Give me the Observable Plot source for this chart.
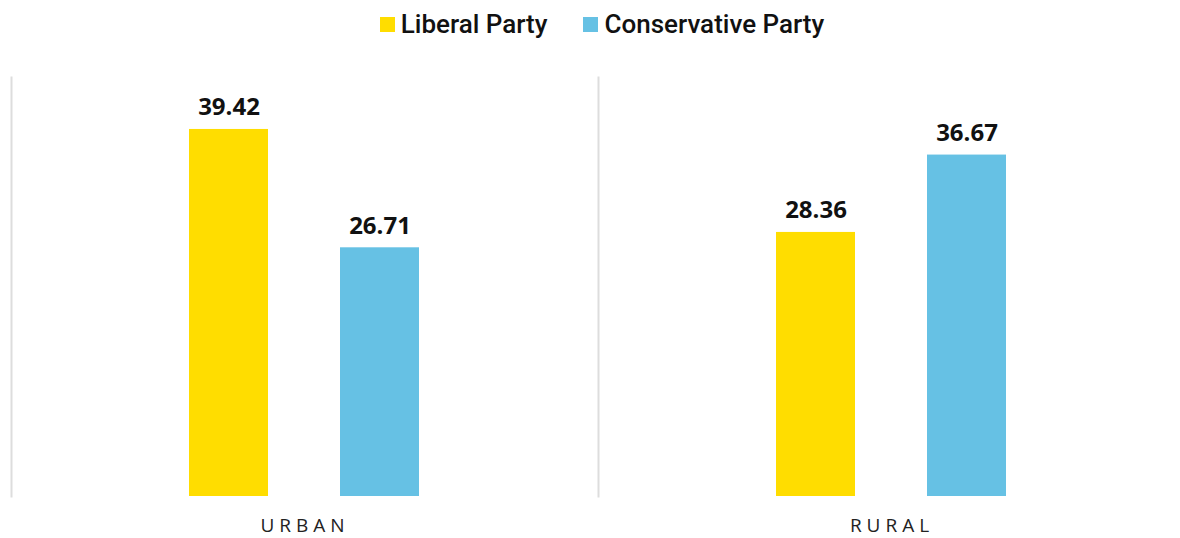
<!DOCTYPE html>
<html>
<head>
<meta charset="utf-8">
<script src="https://cdn.jsdelivr.net/npm/d3@7"></script>
<script src="https://cdn.jsdelivr.net/npm/@observablehq/plot@0.6"></script>
<style>
  html, body { margin: 0; padding: 0; background: #fff; overflow: hidden; }
  #legend { height: 50px; display: flex; justify-content: center; align-items: flex-start; padding-top: 9px; padding-left: 24px; box-sizing: border-box;
    font-family: Roboto, sans-serif; font-weight: 500; font-size: 26px; color: #111; }
  .item { display: flex; align-items: center; margin: 0 18px; }
  .sw { width: 15px; height: 15px; margin-right: 6px; }
  #chart svg g[aria-label="fx-axis tick label"] text { letter-spacing: 5px; }
</style>
</head>
<body>
<div id="legend"></div>
<div id="chart"></div>
<script>
const areas = ["URBAN", "RURAL"];
const parties = ["Liberal Party", "Conservative Party"];
const colors = ["#FFDD00", "#66C1E4"];
const liberalValues = [39.42, 28.36];
const conservativeValues = [26.71, 36.67];

const data = [];
areas.forEach((a, i) => {
  data.push({area: a, party: parties[0], value: liberalValues[i]});
  data.push({area: a, party: parties[1], value: conservativeValues[i]});
});

const legend = document.getElementById("legend");
parties.forEach((p, i) => {
  const it = document.createElement("div");
  it.className = "item";
  const sw = document.createElement("div");
  sw.className = "sw";
  sw.style.background = colors[i];
  const t = document.createElement("span");
  t.textContent = p;
  it.appendChild(sw); it.appendChild(t);
  legend.appendChild(it);
});

const chart = Plot.plot({
  width: 1185,
  height: 488,
  marginLeft: 11,
  marginRight: 0,
  marginTop: 27,
  marginBottom: 42,
  style: {fontFamily: "'Open Sans', sans-serif", background: "#fff", maxWidth: "none"},
  fx: {domain: areas, padding: 0, label: null},
  x: {domain: parties, paddingInner: 0.474, paddingOuter: 1.168, align: 0.5, axis: null},
  y: {domain: [0, 45], axis: null},
  color: {domain: parties, range: colors},
  marks: [
    Plot.frame({anchor: "left", stroke: "#dddddd", strokeWidth: 2}),
    Plot.barY(data, {fx: "area", x: "party", y: "value", fill: "party"}),
    Plot.text(data, {fx: "area", x: "party", y: "value", text: d => d.value.toFixed(2),
      lineAnchor: "bottom", dy: -14, fontSize: 24, fontWeight: 700, fill: "#111",
      fontFamily: "'Open Sans', sans-serif"}),
    Plot.axisFx({anchor: "bottom", tickSize: 0, tickPadding: 22, fontSize: 19, fill: "#222", label: null})
  ]
});
document.getElementById("chart").appendChild(chart);
</script>
</body>
</html>
